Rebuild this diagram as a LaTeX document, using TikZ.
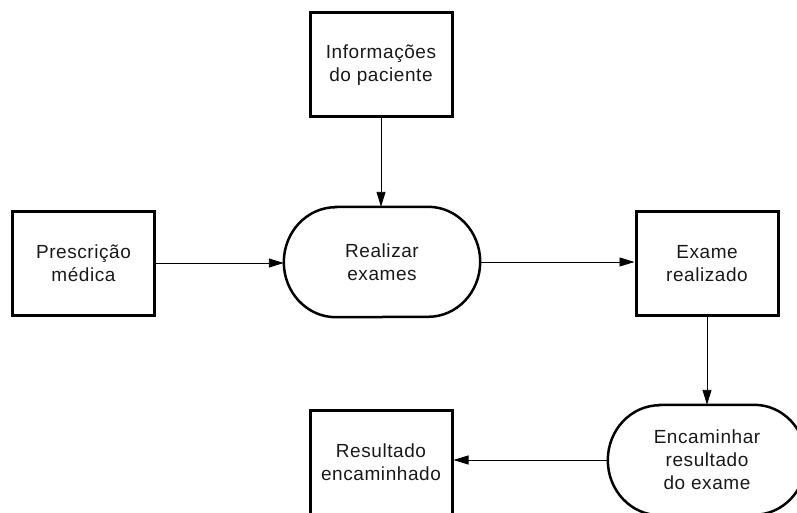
\documentclass[tikz,border=0pt]{standalone}
\usepackage{fontspec}
\setmainfont[LetterSpace=3]{Liberation Sans}
\usetikzlibrary{arrows.meta}
% outline of a process node: flat top and bottom, half-ellipse ends
\newcommand\procoutline[2]{%
  \draw[outline] ([xshift=#2]#1.north west) -- ([xshift=-#2]#1.north east)
    arc[start angle=90, end angle=-90, x radius=#2, y radius=55pt]
    -- ([xshift=#2]#1.south west)
    arc[start angle=270, end angle=90, x radius=#2, y radius=55pt] -- cycle;}
\begin{document}
\begin{tikzpicture}[x=1pt, y=-1pt,
  every node/.style={font=\fontsize{19}{23}\selectfont, align=center, inner sep=0pt, text=black!90},
  store/.style={draw, line width=3pt, minimum width=142pt, minimum height=104pt},
  proc/.style={minimum width=196pt, minimum height=110pt},
  flow/.style={line width=0.9pt, -{Triangle[length=15pt, width=9pt]}},
  outline/.style={line width=2.5pt}]
\useasboundingbox (0,0) rectangle (797,513);
\clip (0,0) rectangle (797,513);

% data stores
\node[store] (info) at (381,65)    {Informações\\do paciente};
\node[store] (presc) at (83.5,263) {Prescrição\\médica};
\node[store] (exame) at (707,263.5) {Exame\\realizado};
\node[store] (result) at (381,462) {Resultado\\encaminhado};

% processes
\node[proc] (real) at (382,262) {Realizar\\exames};
\node[proc, minimum width=198pt] (enc) at (707,460) {Encaminhar\\resultado\\do exame};
\procoutline{real}{52pt}
\procoutline{enc}{52pt}

% flows
\draw[flow] (info.south) -- (info.south |- real.north);
\draw[flow] (presc.east) -- (presc.east -| real.west);
\draw[flow] (real.east) -- (real.east -| exame.west);
\draw[flow] (exame.south) -- (exame.south |- enc.north);
\draw[flow] (enc.west) -- (enc.west -| result.east);
\end{tikzpicture}
\end{document}
